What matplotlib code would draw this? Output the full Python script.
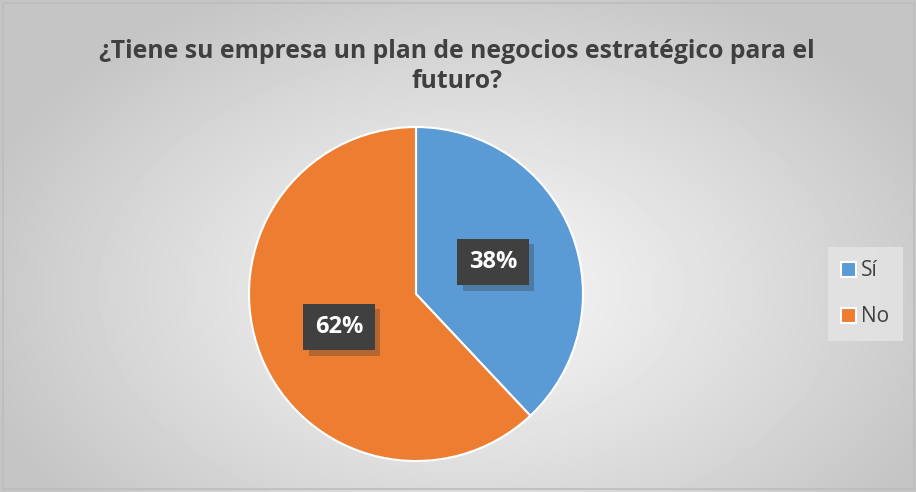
import matplotlib.pyplot as plt
import matplotlib.patheffects as pe
from matplotlib.patches import Rectangle
import numpy as np

labels = ['Sí', 'No']
values = [38, 62]
colors = ['#5B9BD5', '#ED7D31']
title = '¿Tiene su empresa un plan de negocios estratégico para el\nfuturo?'

plt.rcParams['font.family'] = ['Open Sans', 'DejaVu Sans']

fig = plt.figure(figsize=(9.16, 4.92), dpi=100)

# radial gradient background
bg = fig.add_axes([0, 0, 1, 1], zorder=-10)
yy, xx = np.mgrid[0:492, 0:916]
r = np.sqrt(((xx - 470) / 620) ** 2 + ((yy - 290) / 400) ** 2)
shade = np.clip(0.965 - 0.24 * r ** 1.15, 0.77, 0.965)
bg.imshow(shade, cmap='gray', vmin=0, vmax=1, extent=[0, 916, 492, 0], aspect='auto')
bg.add_patch(Rectangle((3, 3), 911, 486, fill=False, edgecolor='#bdbdbd', lw=1.2))
bg.set_xlim(0, 916)
bg.set_ylim(492, 0)
bg.axis('off')

fig.text(0.499, 0.865, title, ha='center', va='center', fontsize=17.8,
         fontweight='bold', color='#404040', linespacing=1.25)

ax = fig.add_axes([(416 - 170) / 916, 1 - (294 + 170) / 492, 340 / 916, 340 / 492])
wedges, _ = ax.pie(values, colors=colors, startangle=90, counterclock=False,
                   radius=167 / 170, wedgeprops=dict(edgecolor='white', linewidth=1.5))
ax.set_xlim(-1, 1)
ax.set_ylim(-1, 1)
ax.set_aspect('equal')

label_pos = [(0.453, 0.188), (-0.453, -0.194)]
for (x, y), v in zip(label_pos, values):
    ax.text(x, y, f'{v}%', ha='center', va='center', fontsize=17, fontweight='bold',
            color='white',
            bbox=dict(boxstyle='square,pad=0.48', facecolor='#404040', edgecolor='none',
                      path_effects=[pe.withSimplePatchShadow(offset=(4, -4), shadow_rgbFace='#333333', alpha=0.3),
                                    pe.Normal()]))

leg = fig.legend(wedges, labels, loc='center left', bbox_to_anchor=(834 / 916, 1 - 294 / 492),
                 frameon=True, fontsize=15, handlelength=0.7, handleheight=0.7,
                 labelspacing=1.2, borderpad=0.35, handletextpad=0.25, labelcolor='#404040',
                 borderaxespad=0)
leg.get_frame().set_facecolor('#e4e4e4')
leg.get_frame().set_edgecolor('none')
leg.get_frame().set_boxstyle('square')
leg.get_frame().set_alpha(0.85)

fig.savefig('out.png', dpi=100)
